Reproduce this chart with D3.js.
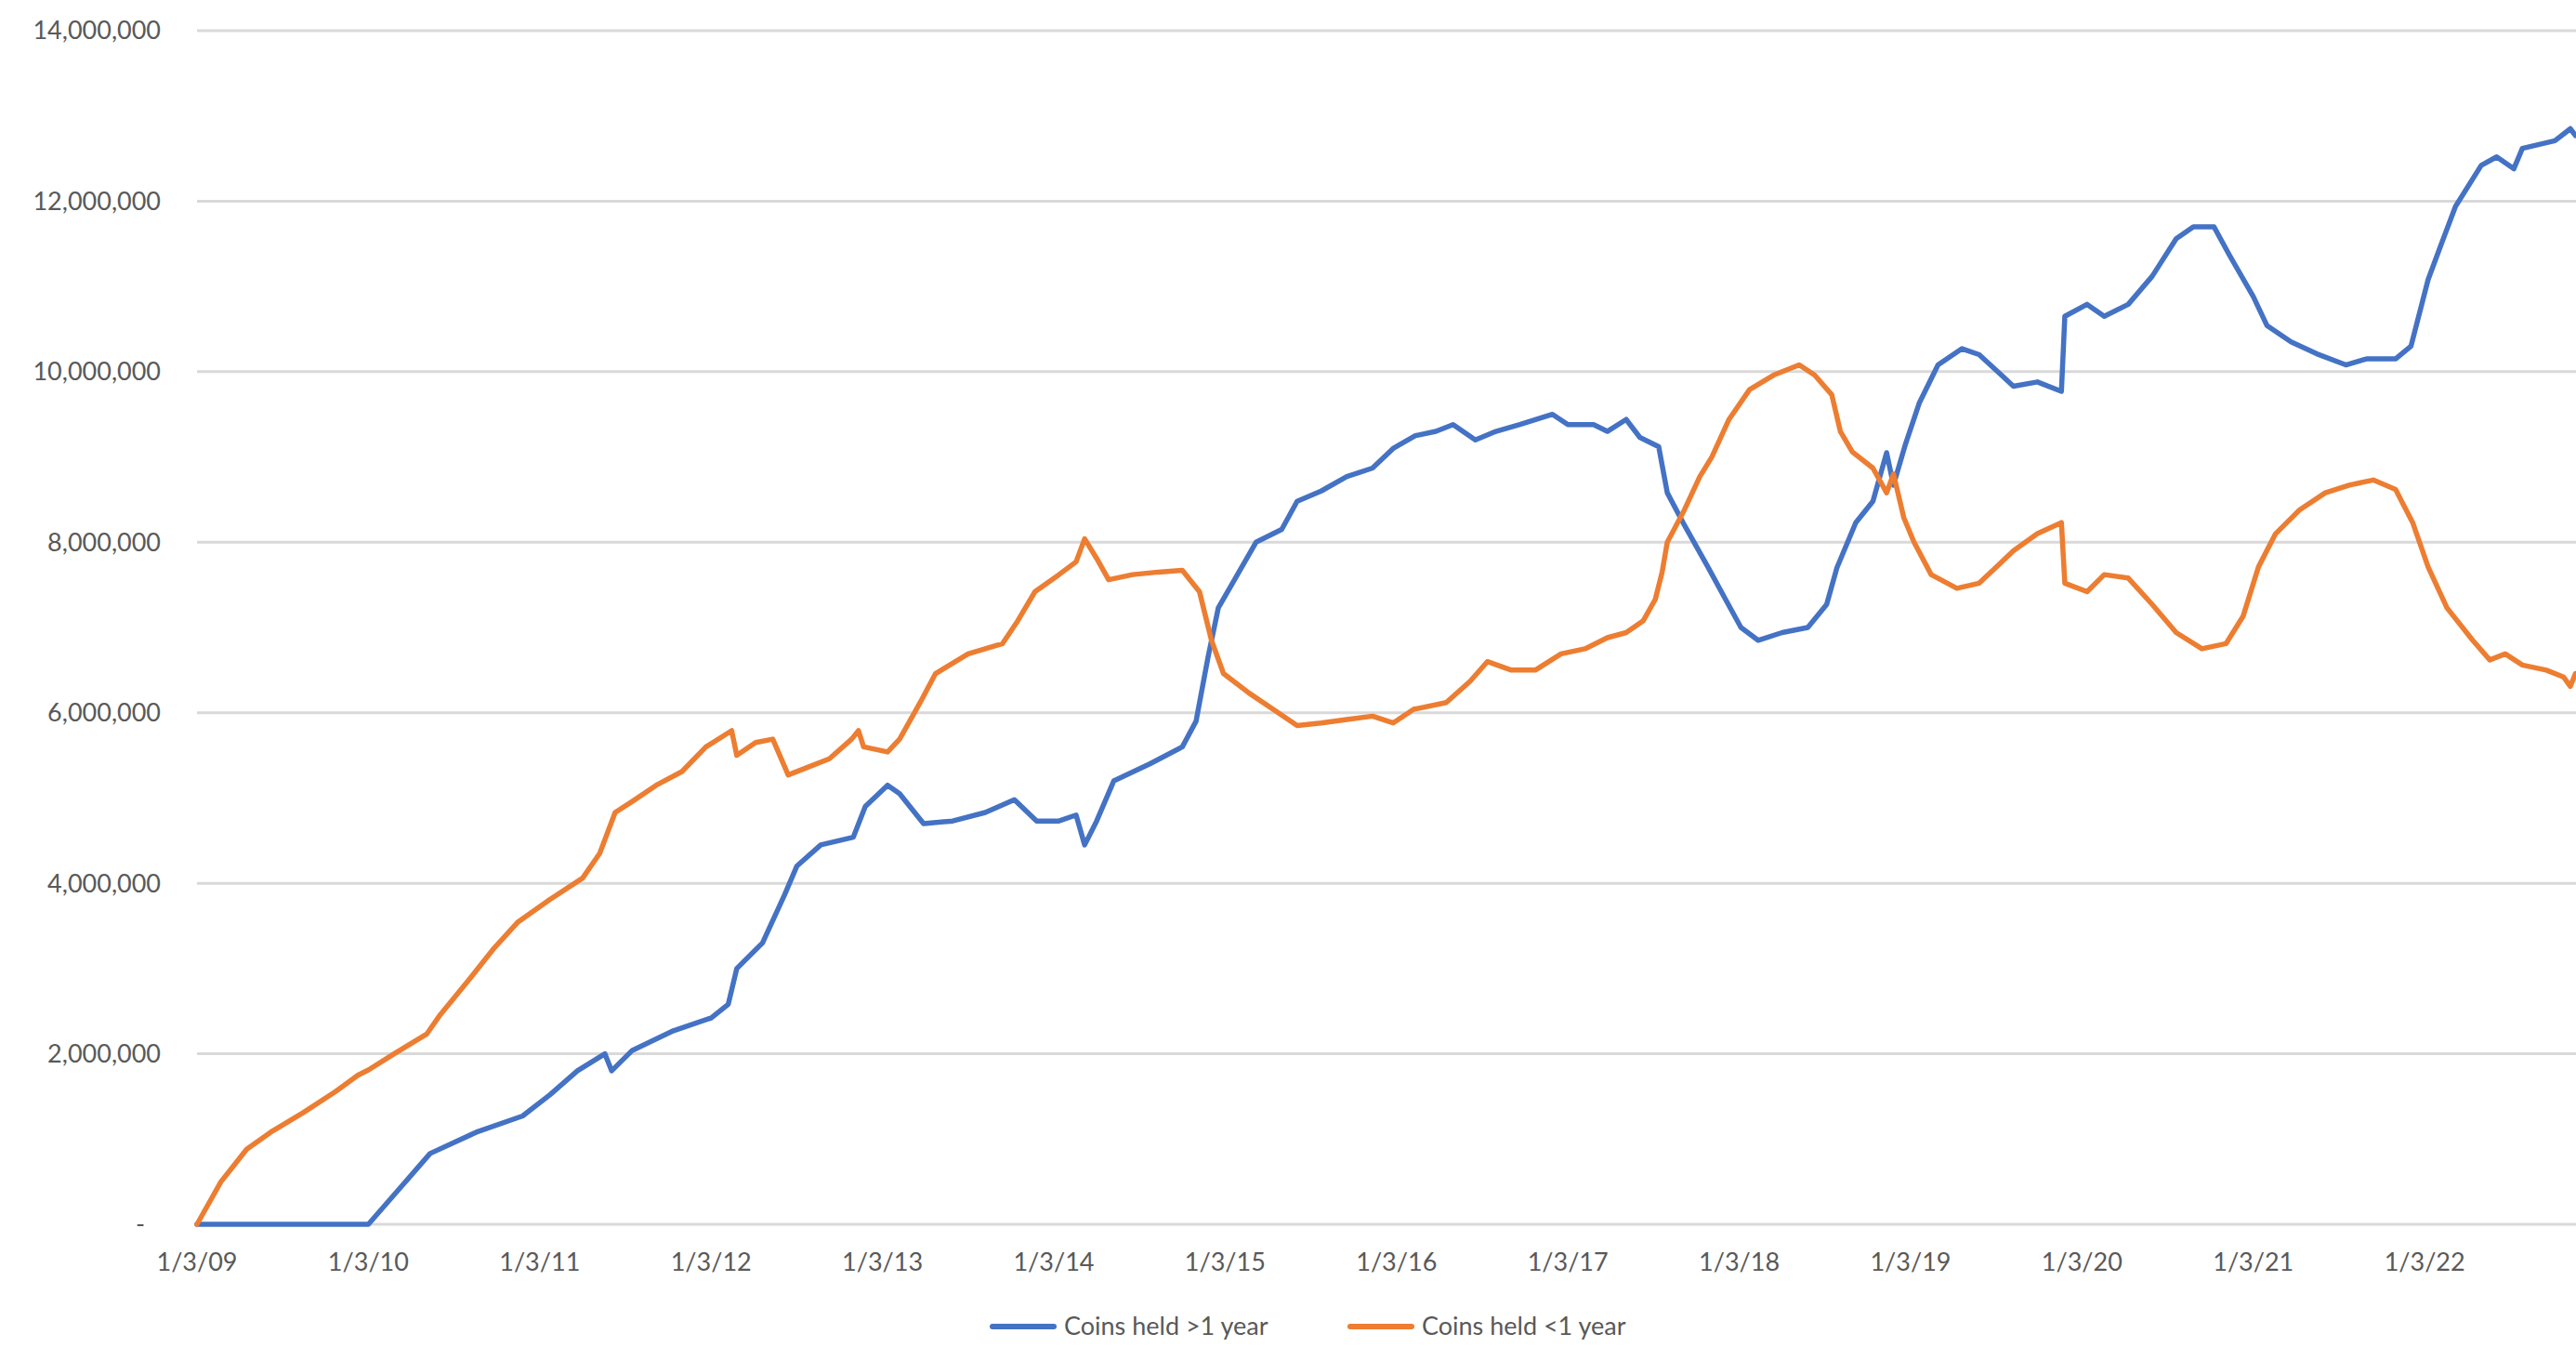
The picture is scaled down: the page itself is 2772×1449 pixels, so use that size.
<!DOCTYPE html>
<html>
<head>
<meta charset="utf-8">
<script src="https://cdn.jsdelivr.net/npm/d3@7"></script>
<style>
  html, body { margin: 0; padding: 0; background: #ffffff; }
  #chart { width: 2772px; height: 1449px; }
</style>
</head>
<body>
<div id="chart"></div>
<script>
'use strict'

// x = decimal year (coins)
const longYears = [2009.0, 2010.0, 2010.2, 2010.36, 2010.63, 2010.9, 2011.06, 2011.22, 2011.38, 2011.42, 2011.54, 2011.78, 2012.0, 2012.1, 2012.15, 2012.3, 2012.43, 2012.5, 2012.64, 2012.83, 2012.9, 2013.03, 2013.1, 2013.24, 2013.41, 2013.6, 2013.77, 2013.9, 2014.03, 2014.13, 2014.18, 2014.25, 2014.35, 2014.56, 2014.75, 2014.83, 2014.9, 2014.96, 2015.06, 2015.18, 2015.33, 2015.42, 2015.56, 2015.71, 2015.86, 2015.98, 2016.11, 2016.23, 2016.33, 2016.46, 2016.58, 2016.72, 2016.91, 2017.0, 2017.15, 2017.23, 2017.34, 2017.42, 2017.53, 2017.58, 2017.68, 2017.82, 2017.92, 2018.01, 2018.11, 2018.25, 2018.4, 2018.51, 2018.57, 2018.68, 2018.78, 2018.86, 2018.9, 2018.97, 2019.05, 2019.16, 2019.3, 2019.4, 2019.53, 2019.6, 2019.74, 2019.88, 2019.9, 2020.03, 2020.13, 2020.27, 2020.41, 2020.55, 2020.65, 2020.77, 2020.86, 2021.0, 2021.08, 2021.22, 2021.37, 2021.54, 2021.66, 2021.83, 2021.92, 2022.02, 2022.09, 2022.18, 2022.33, 2022.42, 2022.52, 2022.57, 2022.76, 2022.85, 2022.88]
const longHeld = [0, 0, 460000, 830000, 1080000, 1270000, 1520000, 1800000, 2000000, 1800000, 2040000, 2270000, 2420000, 2580000, 3000000, 3300000, 3870000, 4200000, 4450000, 4540000, 4900000, 5150000, 5050000, 4700000, 4730000, 4830000, 4980000, 4730000, 4730000, 4800000, 4450000, 4730000, 5200000, 5400000, 5600000, 5900000, 6650000, 7230000, 7580000, 8000000, 8150000, 8480000, 8600000, 8770000, 8870000, 9100000, 9250000, 9300000, 9380000, 9200000, 9300000, 9380000, 9500000, 9380000, 9380000, 9300000, 9440000, 9230000, 9120000, 8580000, 8200000, 7700000, 7330000, 7000000, 6850000, 6940000, 7000000, 7270000, 7700000, 8230000, 8480000, 9050000, 8670000, 9150000, 9630000, 10080000, 10270000, 10200000, 9960000, 9830000, 9880000, 9770000, 10650000, 10790000, 10650000, 10790000, 11120000, 11560000, 11700000, 11700000, 11370000, 10880000, 10540000, 10350000, 10210000, 10080000, 10150000, 10150000, 10300000, 11080000, 11460000, 11940000, 12420000, 12520000, 12380000, 12620000, 12710000, 12850000, 12770000]

const shortYears = [2009.0, 2009.14, 2009.29, 2009.43, 2009.62, 2009.81, 2009.94, 2010.0, 2010.15, 2010.34, 2010.42, 2010.58, 2010.73, 2010.87, 2011.06, 2011.25, 2011.35, 2011.44, 2011.54, 2011.68, 2011.83, 2011.97, 2012.12, 2012.15, 2012.26, 2012.36, 2012.45, 2012.55, 2012.69, 2012.82, 2012.86, 2012.89, 2013.03, 2013.1, 2013.22, 2013.31, 2013.5, 2013.7, 2013.79, 2013.89, 2014.03, 2014.13, 2014.18, 2014.25, 2014.32, 2014.46, 2014.61, 2014.75, 2014.85, 2014.92, 2014.99, 2015.14, 2015.28, 2015.42, 2015.56, 2015.71, 2015.86, 2015.98, 2016.1, 2016.29, 2016.43, 2016.53, 2016.67, 2016.81, 2016.96, 2017.1, 2017.23, 2017.34, 2017.44, 2017.51, 2017.55, 2017.58, 2017.68, 2017.77, 2017.84, 2017.94, 2018.06, 2018.2, 2018.35, 2018.44, 2018.54, 2018.59, 2018.66, 2018.78, 2018.86, 2018.9, 2018.96, 2019.02, 2019.12, 2019.27, 2019.4, 2019.5, 2019.6, 2019.74, 2019.88, 2019.9, 2020.03, 2020.13, 2020.27, 2020.41, 2020.55, 2020.7, 2020.84, 2020.94, 2021.03, 2021.13, 2021.27, 2021.42, 2021.56, 2021.7, 2021.83, 2021.93, 2022.02, 2022.13, 2022.28, 2022.38, 2022.47, 2022.57, 2022.71, 2022.81, 2022.85, 2022.88]
const shortHeld = [0, 500000, 880000, 1080000, 1310000, 1560000, 1750000, 1810000, 2000000, 2230000, 2460000, 2850000, 3230000, 3540000, 3810000, 4060000, 4350000, 4830000, 4960000, 5150000, 5310000, 5600000, 5790000, 5500000, 5650000, 5690000, 5270000, 5350000, 5460000, 5690000, 5790000, 5600000, 5540000, 5690000, 6120000, 6460000, 6690000, 6810000, 7080000, 7420000, 7620000, 7770000, 8040000, 7810000, 7560000, 7620000, 7650000, 7670000, 7420000, 6850000, 6460000, 6230000, 6040000, 5850000, 5880000, 5920000, 5960000, 5880000, 6040000, 6120000, 6370000, 6600000, 6500000, 6500000, 6690000, 6750000, 6880000, 6940000, 7080000, 7330000, 7650000, 8000000, 8380000, 8770000, 9000000, 9440000, 9790000, 9960000, 10080000, 9960000, 9730000, 9300000, 9060000, 8870000, 8580000, 8800000, 8290000, 8000000, 7620000, 7460000, 7520000, 7710000, 7900000, 8100000, 8230000, 7520000, 7420000, 7620000, 7580000, 7270000, 6940000, 6750000, 6810000, 7130000, 7710000, 8100000, 8380000, 8580000, 8670000, 8730000, 8620000, 8230000, 7710000, 7230000, 6850000, 6620000, 6690000, 6560000, 6500000, 6420000, 6310000, 6460000]

const seriesNames = ["Coins held >1 year", "Coins held <1 year"]
const seriesColors = ["#4472C4", "#ED7D31"]

const yTickValues = [0, 2000000, 4000000, 6000000, 8000000, 10000000, 12000000, 14000000]
const xTickYears = [2009, 2010, 2011, 2012, 2013, 2014, 2015, 2016, 2017, 2018, 2019, 2020, 2021, 2022]
const xTickLabels = ["1/3/09", "1/3/10", "1/3/11", "1/3/12", "1/3/13", "1/3/14", "1/3/15", "1/3/16", "1/3/17", "1/3/18", "1/3/19", "1/3/20", "1/3/21", "1/3/22"]

////////////////////////////////////
//////////// svg setup /////////////
////////////////////////////////////

const svgWidth = 2772
const svgHeight = 1449
const margin = { left: 212, right: 0, top: 33, bottom: 132 }
const width = svgWidth - margin.left - margin.right
const height = svgHeight - margin.top - margin.bottom

const font_family = 'Lato, "Open Sans", sans-serif'

const svg = d3.select('#chart')
    .append('svg')
    .attr('width', svgWidth)
    .attr('height', svgHeight)
    .append('g')
    .attr('transform', `translate(${margin.left},${margin.top})`)

////////////////////////////////////
//////////// Scales ////////////////
////////////////////////////////////

const x = d3.scaleLinear().domain([2009, 2022.883]).range([0, width])
const y = d3.scaleLinear().domain([0, 14000000]).range([height, 0])

// gridlines
svg.selectAll('.grid')
    .data(yTickValues)
    .join('line')
    .attr('class', 'grid')
    .attr('x1', 0)
    .attr('x2', width)
    .attr('y1', d => y(d))
    .attr('y2', d => y(d))
    .attr('stroke', '#d9d9d9')
    .attr('stroke-width', 3)

// y labels (accounting style, zero shown as "-")
svg.selectAll('.ylab')
    .data(yTickValues)
    .join('text')
    .attr('class', 'ylab')
    .attr('x', d => d === 0 ? -56 : -39)
    .attr('y', d => y(d))
    .attr('dy', '0.35em')
    .attr('text-anchor', 'end')
    .attr('fill', '#595959')
    .style('font-family', font_family)
    .style('font-size', '27px')
    .text(d => d === 0 ? '-' : d3.format(',')(d))

// x labels
svg.selectAll('.xlab')
    .data(xTickYears)
    .join('text')
    .attr('class', 'xlab')
    .attr('x', d => x(d))
    .attr('y', height + 41)
    .attr('dy', '0.35em')
    .attr('text-anchor', 'middle')
    .attr('fill', '#595959')
    .style('font-family', font_family)
    .style('font-size', '27px')
    .text((d, i) => xTickLabels[i])

////////////////////////////////////
//////////// lines /////////////////
////////////////////////////////////

const series = [
    longYears.map((t, i) => ({ t: t, v: longHeld[i] })),
    shortYears.map((t, i) => ({ t: t, v: shortHeld[i] }))
]

const line = d3.line()
    .x(d => x(d.t))
    .y(d => y(d.v))

svg.selectAll('.series')
    .data(series)
    .join('path')
    .attr('class', 'series')
    .attr('fill', 'none')
    .attr('stroke', (d, i) => seriesColors[i])
    .attr('stroke-width', 5.5)
    .attr('stroke-linejoin', 'round')
    .attr('stroke-linecap', 'round')
    .attr('d', line)

////////////////////////////////////
//////////// legend ////////////////
////////////////////////////////////

const legendX = [1068 - margin.left, 1453 - margin.left]
const legendY = 1427 - margin.top

const legend = svg.selectAll('.legend')
    .data(seriesNames)
    .join('g')
    .attr('class', 'legend')
    .attr('transform', (d, i) => `translate(${legendX[i]},${legendY})`)

legend.append('line')
    .attr('x1', 0)
    .attr('x2', 66)
    .attr('y1', 0)
    .attr('y2', 0)
    .attr('stroke', (d, i) => seriesColors[i])
    .attr('stroke-width', 6)
    .attr('stroke-linecap', 'round')

legend.append('text')
    .attr('x', 77)
    .attr('y', 0)
    .attr('dy', '0.35em')
    .attr('fill', '#595959')
    .style('font-family', font_family)
    .style('font-size', '27px')
    .text(d => d)
</script>
</body>
</html>
